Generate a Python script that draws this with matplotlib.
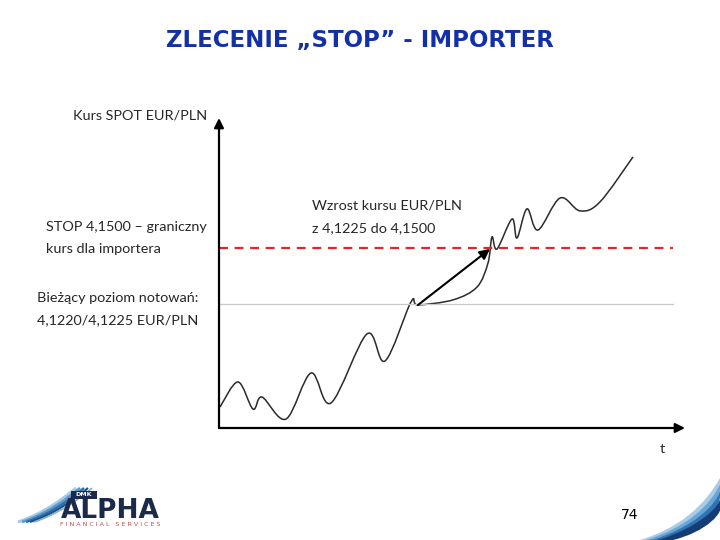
import matplotlib
matplotlib.use('Agg')
import matplotlib.pyplot as plt
from matplotlib.path import Path
from matplotlib.patches import PathPatch, Rectangle

# Schematic price path (time units, EUR/PLN rate)
t_points = [1, 19, 34, 43, 67, 92, 112, 148, 166, 192, 199, 234, 258, 269,
            273, 278, 293, 298, 308, 319, 341, 361, 381, 414]
rate_points = [4.0719, 4.0842, 4.0709, 4.0768, 4.0660, 4.0886, 4.0739, 4.1078,
               4.0945, 4.1235, 4.1220, 4.1245, 4.1308, 4.1426, 4.1554, 4.1495,
               4.1642, 4.1549, 4.1692, 4.1588, 4.1745, 4.1682, 4.1726, 4.1947]

current_level = 4.1225
stop_level = 4.1500
arrow_start = (199, 4.1220)
arrow_end = (271, 4.1495)

W, H = 720, 540
TEXT_FONT = ['Lato', 'DejaVu Sans']


def px(x, y):
    """Pixel position on the slide -> figure fraction."""
    return x / W, 1 - y / H


def smooth_path(xs, ys):
    """Catmull-Rom curve through the points as cubic bezier segments."""
    pts = list(zip(xs, ys))
    verts = [pts[0]]
    codes = [Path.MOVETO]
    n = len(pts)
    for i in range(n - 1):
        p0 = pts[i - 1] if i > 0 else pts[i]
        p1 = pts[i]
        p2 = pts[i + 1]
        p3 = pts[i + 2] if i + 2 < n else pts[i + 1]
        c1 = (p1[0] + (p2[0] - p0[0]) / 6, p1[1] + (p2[1] - p0[1]) / 6)
        c2 = (p2[0] - (p3[0] - p1[0]) / 6, p2[1] - (p3[1] - p1[1]) / 6)
        verts += [c1, c2, p2]
        codes += [Path.CURVE4] * 3
    return Path(verts, codes)


fig = plt.figure(figsize=(7.2, 5.4), dpi=100)
fig.patch.set_facecolor('white')

# chart area: origin at (219, 428), y arrow tip at 118, x arrow tip at 685
ax_left, ax_bottom = px(219, 428)
ax = fig.add_axes([ax_left, ax_bottom, (685 - 219) / W, (428 - 118) / H])
ax.set_xlim(0, 466)
ax.set_ylim(4.0616, 4.2138)
ax.axis('off')

# axes with arrow heads
ax.annotate('', xy=(0, 1), xytext=(0, 0), xycoords='axes fraction',
            arrowprops=dict(arrowstyle='-|>', color='black', lw=1.6,
                            mutation_scale=14, shrinkA=0, shrinkB=0))
ax.annotate('', xy=(1, 0), xytext=(0, 0), xycoords='axes fraction',
            arrowprops=dict(arrowstyle='-|>', color='black', lw=1.6,
                            mutation_scale=14, shrinkA=0, shrinkB=0))

# reference levels
ax.axhline(current_level, xmin=0, xmax=454 / 466, color='#c8c8c8', lw=0.9)
ax.axhline(stop_level, xmin=0, xmax=454 / 466, color='#e0262a', lw=1.6,
           dashes=(4, 3))

# price path
ax.add_patch(PathPatch(smooth_path(t_points, rate_points), fill=False,
                       edgecolor='#2a2a2a', lw=1.1))

# move from current level to the stop level
ax.annotate('', xy=arrow_end, xytext=arrow_start,
            arrowprops=dict(arrowstyle='-|>', color='black', lw=1.5,
                            mutation_scale=15, shrinkA=0, shrinkB=0))

# title
fig.text(*px(360, 40), 'ZLECENIE \u201eSTOP\u201d - IMPORTER', ha='center', va='center',
         fontsize=16.5, fontweight='bold', color='#1430a8', family='DejaVu Sans')

# labels
txt = dict(fontsize=10.4, color='#262626', family=TEXT_FONT, va='center')
fig.text(*px(207, 116), 'Kurs SPOT EUR/PLN', ha='right', **txt)
fig.text(*px(46, 227), 'STOP 4,1500 \u2013 graniczny', ha='left', **txt)
fig.text(*px(46, 249), 'kurs dla importera', ha='left', **txt)
fig.text(*px(37, 298), 'Bie\u017c\u0105cy poziom notowa\u0144:', ha='left', **txt)
fig.text(*px(37, 320), '4,1220/4,1225 EUR/PLN', ha='left', **txt)
fig.text(*px(312, 205), 'Wzrost kursu EUR/PLN', ha='left', **txt)
fig.text(*px(312, 228), 'z 4,1225 do 4,1500', ha='left', **txt)
fig.text(*px(662, 449), 't', ha='center', **txt)

# page number
fig.text(*px(630, 515), '74', ha='center', va='center', fontsize=10,
         color='black', family='DejaVu Sans')

# logo, bottom left
deco = fig.add_axes([0, 0, 1, 1], zorder=-1)
deco.set_xlim(0, W)
deco.set_ylim(H, 0)
deco.axis('off')

for i, (col, lw) in enumerate(zip(['#a9cbe6', '#5d9ccc', '#2f6fa8', '#1d4f86', '#7fb1d8'],
                                  [2.2, 2.0, 1.8, 1.5, 1.2])):
    off = i * 4
    sw = Path([(18 + off, 522), (42 + off, 514), (62 + off, 500), (76 + off, 488)],
              [Path.MOVETO, Path.CURVE4, Path.CURVE4, Path.CURVE4])
    deco.add_patch(PathPatch(sw, fill=False, edgecolor=col, lw=lw))

deco.add_patch(Rectangle((71, 491), 26, 8, facecolor='#1b2a4a', edgecolor='none'))
deco.text(84, 495, 'DMK', ha='center', va='center', fontsize=4.5, color='white',
          fontweight='bold', family='DejaVu Sans')
deco.text(110, 511, 'ALPHA', ha='center', va='center', fontsize=19,
          fontweight='bold', color='#1b2a4a', family='DejaVu Sans')
deco.text(110, 525, 'F I N A N C I A L   S E R V I C E S', ha='center', va='center',
          fontsize=4.6, color='#c0504d', family='DejaVu Sans')

# swoosh, bottom right corner
right_cols = ['#a9cbe6', '#6aa6d4', '#2f74b5', '#163d73']
for i, col in enumerate(right_cols):
    off = i * 6
    band = Path([(640 + off, 540), (680 + off, 528), (705 + off, 505), (720, 478 + off),
                 (720, 484 + off), (708 + off, 512), (688 + off, 532), (655 + off, 540),
                 (640 + off, 540)],
                [Path.MOVETO, Path.CURVE4, Path.CURVE4, Path.CURVE4,
                 Path.LINETO, Path.CURVE4, Path.CURVE4, Path.CURVE4, Path.CLOSEPOLY])
    deco.add_patch(PathPatch(band, facecolor=col, edgecolor='none'))

fig.savefig('out.png', dpi=100)
plt.close(fig)
